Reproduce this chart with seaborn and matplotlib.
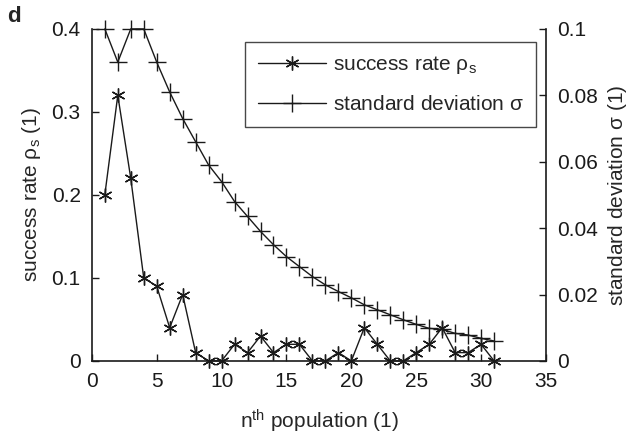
import matplotlib
matplotlib.use("Agg")
import matplotlib.pyplot as plt
import seaborn as sns
import pandas as pd

generation = list(range(1, 32))
success_rate = [0.20, 0.32, 0.22, 0.10, 0.09, 0.04, 0.08, 0.01, 0.0, 0.0,
                0.02, 0.01, 0.03, 0.01, 0.02, 0.02, 0.0, 0.0, 0.01, 0.0,
                0.04, 0.02, 0.0, 0.0, 0.01, 0.02, 0.04, 0.01, 0.01, 0.02, 0.0]
std_dev = [0.100, 0.090, 0.100, 0.100, 0.090, 0.081, 0.073, 0.066, 0.059, 0.054,
           0.048, 0.0435, 0.039, 0.035, 0.0314, 0.0284, 0.0254, 0.0229, 0.0209, 0.0190,
           0.0169, 0.0154, 0.0139, 0.0124, 0.0110, 0.0098, 0.0095, 0.0083, 0.0078, 0.0068, 0.0060]
x_ticks = [0, 5, 10, 15, 20, 25, 30, 35]
left_ticks = [0, 0.1, 0.2, 0.3, 0.4]
right_ticks = [0, 0.02, 0.04, 0.06, 0.08, 0.1]

df = pd.DataFrame({"gen": generation, "rate": success_rate, "sigma": std_dev})

sns.set_style("ticks")
plt.rcParams["font.family"] = ["Liberation Sans", "DejaVu Sans"]
plt.rcParams["mathtext.fontset"] = "custom"
plt.rcParams["mathtext.rm"] = "Liberation Sans"
plt.rcParams["mathtext.it"] = "Liberation Sans"
plt.rcParams["mathtext.default"] = "regular"
FS = 15

fig = plt.figure(figsize=(6.29, 4.38), dpi=100)
ax = fig.add_axes([0.146, 0.176, 0.722, 0.758])
ax2 = ax.twinx()

sns.lineplot(data=df, x="gen", y="rate", ax=ax, color="#1a1a1a", lw=1.0,
             marker=(6, 2, 0), markersize=10, markeredgewidth=1.0,
             markeredgecolor="#1a1a1a", label=r"success rate $\rho_s$", legend=False,
             clip_on=False)
sns.lineplot(data=df, x="gen", y="sigma", ax=ax2, color="#1a1a1a", lw=1.0,
             marker="+", markersize=13, markeredgewidth=1.0,
             markeredgecolor="#1a1a1a", label=r"standard deviation $\sigma$", legend=False,
             clip_on=False)

ax.set_xlim(0, 35)
ax.set_ylim(0, 0.4)
ax2.set_ylim(0, 0.1)
ax.set_xticks(x_ticks)
ax.set_xticklabels([str(t) for t in x_ticks], fontsize=FS)
ax.set_yticks(left_ticks)
ax.set_yticklabels(["0", "0.1", "0.2", "0.3", "0.4"], fontsize=FS)
ax2.set_yticks(right_ticks)
ax2.set_yticklabels(["0", "0.02", "0.04", "0.06", "0.08", "0.1"], fontsize=FS)

for a in (ax, ax2):
    a.tick_params(direction="in", length=5, width=1.0, colors="#1a1a1a", pad=8)
    a.spines["top"].set_visible(False)
    for s in a.spines.values():
        s.set_linewidth(1.2)
        s.set_color("#1a1a1a")
ax.spines["right"].set_visible(False)
ax2.spines["left"].set_visible(False)
ax2.spines["bottom"].set_visible(False)

ax.set_xlabel(r"n$^{\mathrm{th}}$ population (1)", fontsize=FS, labelpad=12)
ax.set_ylabel(r"success rate $\rho_s$ (1)", fontsize=FS, labelpad=6)
ax2.set_ylabel(r"standard deviation $\sigma$ (1)", fontsize=FS, labelpad=6)

h1, l1 = ax.get_legend_handles_labels()
h2, l2 = ax2.get_legend_handles_labels()
leg = ax2.legend(h1 + h2, l1 + l2, loc="upper right", bbox_to_anchor=(0.978, 0.961),
                 fontsize=FS, frameon=True, fancybox=False, edgecolor="#1a1a1a",
                 handlelength=3.3, handletextpad=0.3, borderpad=0.6, labelspacing=0.9,
                 borderaxespad=0.0)
leg.get_frame().set_linewidth(1.0)

fig.text(0.012, 0.95, "d", fontsize=16, fontweight="bold")

fig.savefig("out.png", dpi=100)
